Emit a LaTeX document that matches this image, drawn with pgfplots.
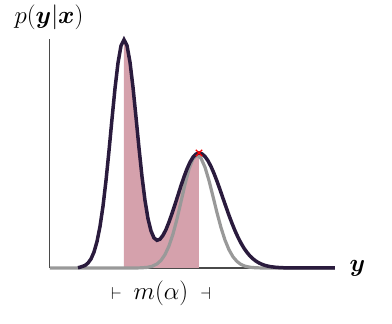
\documentclass[border=0pt]{standalone}
\usepackage{pgfplots}
\pgfplotsset{compat=1.18}
\usepackage{amsmath}
\definecolor{curve}{HTML}{2A1B3D}
\definecolor{shade}{HTML}{D5A1AC}
\definecolor{comp}{HTML}{999999}
\definecolor{axisgray}{HTML}{4A4A4A}

\begin{document}
\begin{tikzpicture}
\begin{axis}[
    scale only axis,
    width=285pt, height=229pt,
    xmin=0, xmax=285, ymin=0, ymax=229,
    axis x line*=bottom,
    axis y line*=left,
    x axis line style={line width=1.8pt, color=axisgray},
    y axis line style={line width=1pt, color=axisgray},
    xtick=\empty, ytick=\empty,
    clip=false,
]
% shaded mass between the mode of the first peak and the second mode
\addplot[draw=none, fill=shade] coordinates {
  (74,0) (74,228.3) (77,222.5) (80,205.8) (83,180.7) (86,150.8) (89,120.0)
  (92,91.4) (95,67.5) (98,49.3) (101,37.1) (104,30.1) (107,27.7) (110,28.8)
  (113,32.7) (116,38.5) (119,46.0) (122,54.5) (125,63.5) (128,72.9) (131,82.3)
  (134,91.1) (137,99.1) (140,105.8) (143,110.8) (146,113.9) (149,115) (149,0)
};
% single component
\addplot[comp, line width=3.2pt] coordinates {
  (0,0) (80,0) (87,0.06) (92,0.21) (97,0.62) (102,1.66) (107,4.03) (111,7.6)
  (115,13.4) (119,22.1) (123,34.0) (127,49.1) (131,66.3) (135,83.7) (139,98.9)
  (143,109.3) (147,113) (151,109.8) (155,100.8) (159,87.4) (163,71.5) (167,55.3)
  (171,40.4) (175,27.9) (179,18.2) (183,11.2) (187,6.5) (191,3.56) (195,1.85)
  (200,0.75) (205,0.28) (210,0.09) (220,0) (285,0)
};
% full density
\addplot[curve, line width=3.5pt] coordinates {
  (28,0.3) (30,0.74) (35,2.53) (38,4.93) (41,9.09) (44,15.9)
  (47,26.4) (50,41.5) (53,61.8) (56,87.4) (59,117.2) (62,149.0) (65,179.5)
  (68,205.1) (71,222.2) (74,228.3) (77,222.5) (80,205.8) (83,180.7) (86,150.8)
  (89,120.0) (92,91.4) (95,67.5) (98,49.3) (101,37.1) (104,30.1) (107,27.7)
  (110,28.8) (113,32.7) (116,38.5) (119,46.0) (122,54.5) (125,63.5) (128,72.9)
  (131,82.3) (134,91.1) (137,99.1) (140,105.8) (143,110.8) (146,113.9) (149,115)
  (152,114.1) (155,111.5) (158,107.2) (161,101.5) (164,94.6) (167,86.8) (170,78.4)
  (173,69.7) (176,61.1) (179,52.6) (182,44.7) (185,37.3) (188,30.7) (191,24.9)
  (194,19.8) (197,15.6) (200,12.0) (203,9.15) (206,6.86) (209,5.05) (212,3.67)
  (215,2.62) (218,1.84) (221,1.28) (226,0.67) (231,0.33) (236,0.16) (245,0.03)
  (260,0) (285,0)
};
\addplot[only marks, red, mark=x, mark size=4.5pt, line width=1.2pt] coordinates {(149,115)};

\node[anchor=base] at (axis cs:-1,244) {\fontsize{28}{33}\selectfont $p(\boldsymbol{y}|\boldsymbol{x})$};
\node[anchor=base west] at (axis cs:296,-3.6) {\fontsize{28}{33}\selectfont $\boldsymbol{y}$};
\node[anchor=base] at (axis cs:111,-31.5) {{\fontsize{19}{22}\selectfont$\vdash$}\hspace{12pt}{\fontsize{28}{33}\selectfont$m(\alpha)$}\hspace{12pt}{\fontsize{19}{22}\selectfont$\dashv$}};
\end{axis}
\pgfresetboundingbox
\path[use as bounding box] (current axis.south west) ++(-50pt,-56pt) rectangle ++(392pt,324pt);
\end{tikzpicture}
\end{document}
